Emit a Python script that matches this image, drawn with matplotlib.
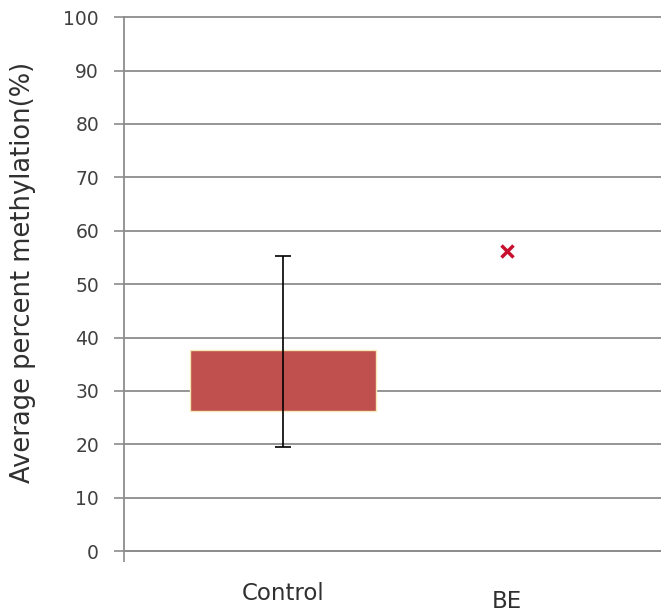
import matplotlib
matplotlib.use('AGG')

import numpy as np
import matplotlib.pyplot as plt
from matplotlib.transforms import ScaledTranslation

# data
groups = ['Control', 'BE']
box_low = [26.2]          # Control box bottom
box_high = [37.7]         # Control box top
err_low = [19.5]          # Control whisker bottom
err_high = [55.2]         # Control whisker top
be_value = [56.2]         # BE single point

yticks = np.arange(0, 101, 10)

fig = plt.figure(figsize=(6.61, 6.15), dpi=100)
ax = fig.add_axes([0.1876, 0.104, 0.8124, 0.868])

xpos = np.arange(len(groups))

# control box
ax.bar(xpos[0], box_high[0] - box_low[0], bottom=box_low[0], width=0.83,
       color='#C0504D', edgecolor='#F5E9B8', linewidth=1.0, zorder=3)
# whisker
ax.errorbar(xpos[0], (err_low[0] + err_high[0]) / 2,
            yerr=(err_high[0] - err_low[0]) / 2, fmt='none',
            ecolor='black', elinewidth=1.2, capsize=6, capthick=1.2, zorder=4)
# BE point
ax.plot(xpos[1], be_value[0], marker='x', color='#C8102E', markersize=9,
        markeredgewidth=2.5, linestyle='none', zorder=4)

ax.set_xlim(-0.71, 1.69)
ax.set_ylim(0, 100)
ax.set_yticks(yticks)
ax.set_yticklabels([str(v) for v in yticks], fontsize=13.5, color='#404040')
ax.yaxis.grid(True, color='#8C8C8C', linewidth=1.3)
for g in ax.get_ygridlines():
    g.set_clip_on(False)
ax.set_axisbelow(True)

ax.set_xticks(xpos)
ax.set_xticklabels(groups, fontsize=16.5, color='#303030')
ax.tick_params(axis='x', length=0, pad=22)
ax.tick_params(axis='y', length=7, width=1.2, color='#8C8C8C', pad=11)
# BE label sits a bit lower
lbl = ax.get_xticklabels()[1]
lbl.set_transform(lbl.get_transform() + ScaledTranslation(0, -6 / 72, fig.dpi_scale_trans))
# small tick below the origin
ax.set_xticks([-0.71], minor=True)
ax.tick_params(axis='x', which='minor', length=8, width=1.2, color='#8C8C8C')

for s in ['top', 'right']:
    ax.spines[s].set_visible(False)
for s in ['left', 'bottom']:
    ax.spines[s].set_color('#8C8C8C')
    ax.spines[s].set_linewidth(1.3)

ax.set_ylabel('Average percent methylation(%)', fontsize=18.5, color='#303030')
ax.yaxis.set_label_coords(-0.164, 0.522)

plt.savefig('out.png', dpi=100)
plt.close(fig)
